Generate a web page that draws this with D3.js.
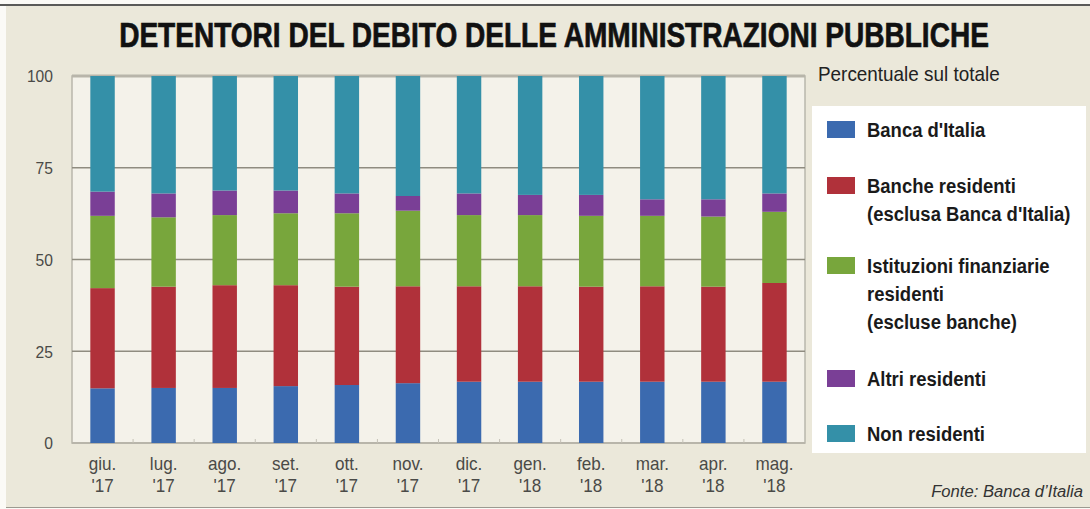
<!DOCTYPE html>
<html><head><meta charset="utf-8">
<script src="https://cdn.jsdelivr.net/npm/d3@7"></script>
<style>
html,body{margin:0;padding:0;background:#fff;}
svg{display:block;}
text{font-family:"Liberation Sans", Arial, sans-serif;}
</style></head>
<body>
<svg id="chart" width="1090" height="509"></svg>
<script>
const title = "DETENTORI DEL DEBITO DELLE AMMINISTRAZIONI PUBBLICHE";
const subtitle = "Percentuale sul totale";
const source = "Fonte: Banca d\u2019Italia";
const months = ["giu.","lug.","ago.","set.","ott.","nov.","dic.","gen.","feb.","mar.","apr.","mag."];
const years  = ["'17","'17","'17","'17","'17","'17","'17","'18","'18","'18","'18","'18"];
const yTicks = [0,25,50,75,100];
const seriesNames = ["Banca d'Italia","Banche residenti","Istituzioni finanziarie residenti","Altri residenti","Non residenti"];
const legendLabels = [["Banca d'Italia"],["Banche residenti","(esclusa Banca d'Italia)"],["Istituzioni finanziarie","residenti","(escluse banche)"],["Altri residenti"],["Non residenti"]];
const colors = ["#3b6aaf","#b0313a","#78a63c","#7a3f96","#3490a8"];
const bancaItalia   = [14.9,15.0,15.0,15.5,15.8,16.3,16.7,16.7,16.7,16.7,16.7,16.7];
const bancheRes     = [27.3,27.6,28.0,27.5,26.8,26.4,26.0,26.0,25.9,26.0,25.9,26.9];
const istituzioni   = [19.7,18.9,19.1,19.6,20.0,20.6,19.4,19.4,19.3,19.2,19.1,19.4];
const altriRes      = [6.6,6.5,6.7,6.2,5.4,4.0,5.9,5.5,5.7,4.5,4.7,5.0];
const nonRes        = [31.5,32.0,31.2,31.2,32.0,32.7,32.0,32.4,32.4,33.6,33.6,32.0];

const seriesArrays = [bancaItalia,bancheRes,istituzioni,altriRes,nonRes];
const table = months.map((m,i)=>{const o={month:m};seriesNames.forEach((s,j)=>o[s]=seriesArrays[j][i]);return o;});

const svg = d3.select("#chart");
svg.append("rect").attr("x",0).attr("y",0).attr("width",1090).attr("height",509).attr("fill","#fbfaf6");
svg.append("rect").attr("x",6).attr("y",6).attr("width",1084).attr("height",501).attr("fill","#ebe8da");
svg.append("line").attr("x1",0).attr("x2",1090).attr("y1",5).attr("y2",5).attr("stroke","#5a5a58").attr("stroke-width",2);
svg.append("line").attr("x1",6).attr("x2",1090).attr("y1",507.5).attr("y2",507.5).attr("stroke","#9c9a90").attr("stroke-width",1);

const tNode = svg.append("text").attr("font-size",35).attr("font-weight","bold").attr("fill","#111")
  .attr("stroke","#111").attr("stroke-width",0.7).attr("text-anchor","middle").text(title);
const tw = tNode.node().getComputedTextLength();
tNode.attr("transform",`translate(554,47) scale(${870/tw},1)`);

const L=72,R=805,T=76,B=443;
const x = d3.scaleBand().domain(months).range([L,R]).paddingInner(0.6).paddingOuter(0.3);
const y = d3.scaleLinear().domain([0,100]).range([B,T]);

svg.append("rect").attr("x",L).attr("y",T).attr("width",R-L).attr("height",B-T).attr("fill","#f4f2ea")
  .attr("stroke","#b9b7ac").attr("stroke-width",1.5);

svg.append("g").selectAll("line").data(yTicks.filter(d=>d>0&&d<100)).join("line")
  .attr("x1",L).attr("x2",R).attr("y1",d=>y(d)).attr("y2",d=>y(d))
  .attr("stroke","#8f8c80").attr("stroke-width",1.3);
svg.append("line").attr("x1",L).attr("x2",R).attr("y1",y(100)).attr("y2",y(100)).attr("stroke","#b8b5aa").attr("stroke-width",3);
svg.append("line").attr("x1",L).attr("x2",R).attr("y1",y(0)).attr("y2",y(0)).attr("stroke","#b8b5aa").attr("stroke-width",2);

svg.append("g").selectAll("line").data(months.slice(1)).join("line")
  .attr("x1",d=>x(d)-x.step()*0.3).attr("x2",d=>x(d)-x.step()*0.3)
  .attr("y1",B-4).attr("y2",B).attr("stroke","#c4c1b6").attr("stroke-width",1);

const stack = d3.stack().keys(seriesNames)(table);
svg.append("g").selectAll("g").data(stack).join("g").attr("fill",(d,i)=>colors[i])
  .selectAll("rect").data(d=>d).join("rect")
  .attr("x",d=>x(d.data.month)).attr("width",x.bandwidth())
  .attr("y",d=>y(d[1])).attr("height",d=>y(d[0])-y(d[1]));

const yAxis = d3.axisLeft(y).tickValues(yTicks).tickSize(0).tickPadding(0);
const ya = svg.append("g").attr("transform","translate(53,0)").call(yAxis);
ya.select(".domain").remove();
ya.selectAll("text").attr("font-size",17).attr("fill","#4a4a47").attr("font-family","Liberation Sans, Arial, sans-serif")
  .attr("transform","scale(0.92,1)").attr("x",0).attr("dy","0.35em");

const xa = svg.append("g");
xa.selectAll("text.m").data(months).join("text").attr("class","m")
  .attr("transform",d=>`translate(${x(d)+x.bandwidth()/2},470) scale(0.95,1)`).attr("text-anchor","middle")
  .attr("font-size",18).attr("fill","#4a4a47").text(d=>d);
xa.selectAll("text.yy").data(years).join("text").attr("class","yy")
  .attr("transform",(d,i)=>`translate(${x(months[i])+x.bandwidth()/2},492) scale(0.95,1)`).attr("text-anchor","middle")
  .attr("font-size",18).attr("fill","#4a4a47").text(d=>d);

svg.append("text").attr("transform","translate(818,81) scale(0.9,1)")
  .attr("font-size",21).attr("fill","#222").text(subtitle);

svg.append("rect").attr("x",812).attr("y",106).attr("width",274).attr("height",347).attr("fill","#ffffff");
const legendY = [137,193,273,386,441];
const lg = svg.append("g");
legendLabels.forEach((lines,i)=>{
  lg.append("rect").attr("x",827).attr("y",legendY[i]-16).attr("width",28).attr("height",17).attr("fill",colors[i]);
  lines.forEach((t,k)=>{
    lg.append("text").attr("transform",`translate(867,${legendY[i]+k*28}) scale(0.88,1)`)
      .attr("font-size",21).attr("font-weight","bold").attr("fill","#1a1a1a").text(t);
  });
});

svg.append("text").attr("transform","translate(1083,497) scale(0.98,1)").attr("text-anchor","end")
  .attr("font-size",17).attr("font-style","italic").attr("fill","#333").text(source);
</script>
</body></html>
